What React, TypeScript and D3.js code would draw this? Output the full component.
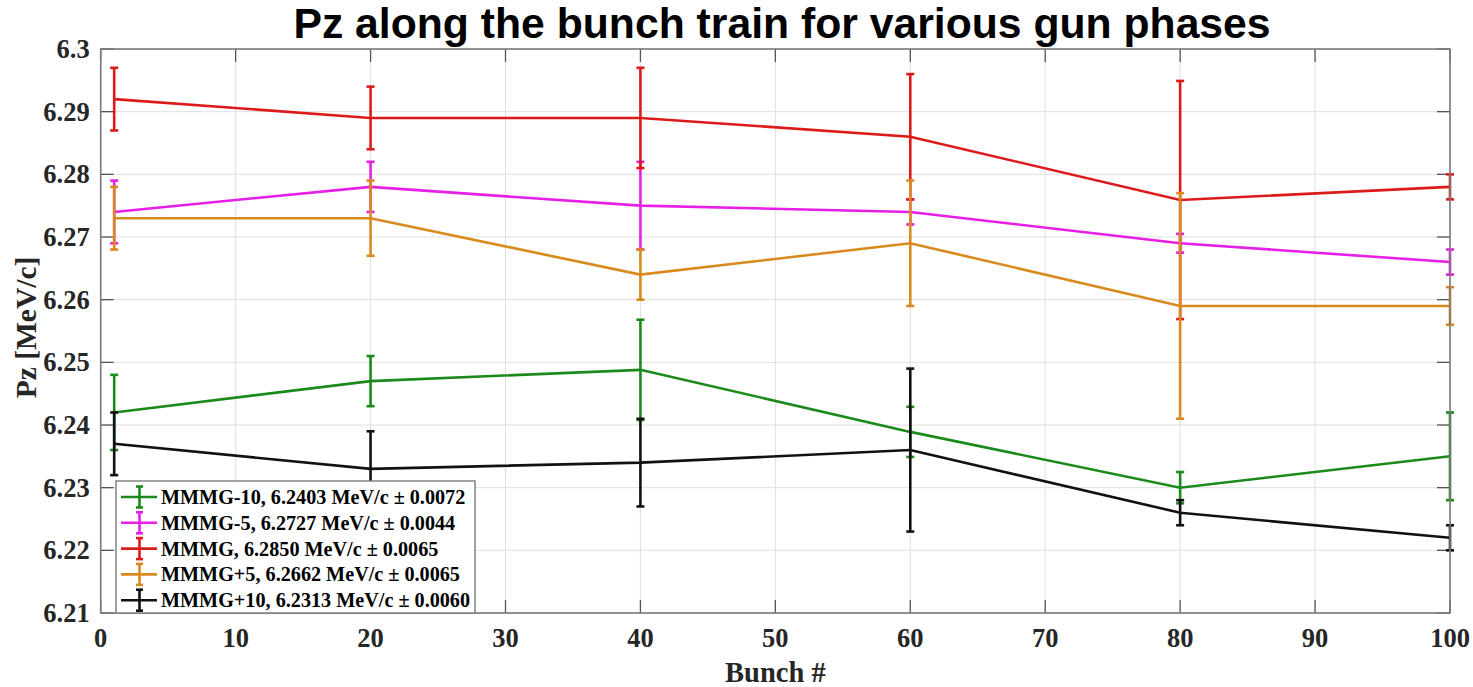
import React from "react";
import * as d3 from "d3";

const bunches = [1, 20, 40, 60, 80, 100];

const seriesNames = ["MMMG-10", "MMMG-5", "MMMG", "MMMG+5", "MMMG+10"];
const seriesMeans = ["6.2403", "6.2727", "6.2850", "6.2662", "6.2313"];
const seriesStd = ["0.0072", "0.0044", "0.0065", "0.0065", "0.0060"];
const seriesColors = ["#1b8a1b", "#e61ee6", "#dd1a1a", "#d98a1e", "#111111"];

const green = [6.242, 6.247, 6.2488, 6.2389, 6.230, 6.235];
const greenErr = [0.006, 0.004, 0.008, 0.004, 0.0025, 0.007];
const magenta = [6.274, 6.278, 6.275, 6.274, 6.269, 6.266];
const magentaErr = [0.005, 0.004, 0.007, 0.002, 0.0015, 0.002];
const red = [6.292, 6.289, 6.289, 6.286, 6.2759, 6.278];
const redErr = [0.005, 0.005, 0.008, 0.010, 0.019, 0.002];
const orange = [6.273, 6.273, 6.264, 6.269, 6.259, 6.259];
const orangeErr = [0.005, 0.006, 0.004, 0.010, 0.018, 0.003];
const black = [6.237, 6.233, 6.234, 6.236, 6.226, 6.222];
const blackErr = [0.005, 0.006, 0.007, 0.013, 0.002, 0.002];

const seriesValues = [green, magenta, red, orange, black];
const seriesErrors = [greenErr, magentaErr, redErr, orangeErr, blackErr];

const xTicks = [0, 10, 20, 30, 40, 50, 60, 70, 80, 90, 100];
const yTicks = [6.21, 6.22, 6.23, 6.24, 6.25, 6.26, 6.27, 6.28, 6.29, 6.3];

const title = "Pz along the bunch train for various gun phases";
const xLabel = "Bunch #";
const yLabel = "Pz [MeV/c]";

export default function App() {
  const W = 1473, H = 687;
  const left = 100.7, right = 1450, top = 49, bottom = 613;
  const x = d3.scaleLinear().domain([0, 100]).range([left, right]);
  const y = d3.scaleLinear().domain([6.21, 6.3]).range([bottom, top]);
  const line = d3.line<number>().x((_, i) => x(bunches[i])).y((v) => y(v));
  const capW = 4;
  const tickLen = 13;
  const serif = "'Liberation Serif', 'Times New Roman', serif";
  const axisColor = "#7a7a7a";

  const legX = 116, legY = 481, legW = 359, legH = bottom - legY;
  const legRow = 25.8;

  return (
    <svg width={W} height={H} style={{ position: "absolute", left: 0, top: 0, background: "#fff" }}>
      <rect x={0} y={0} width={W} height={H} fill="#fff" />
      {/* grid */}
      {xTicks.map((t) => (
        <line key={"gx" + t} x1={x(t)} x2={x(t)} y1={top} y2={bottom} stroke="#e0e0e0" strokeWidth={1} />
      ))}
      {yTicks.map((t) => (
        <line key={"gy" + t} x1={left} x2={right} y1={y(t)} y2={y(t)} stroke="#e0e0e0" strokeWidth={1} />
      ))}
      {/* ticks */}
      {xTicks.map((t) => (
        <g key={"tx" + t}>
          <line x1={x(t)} x2={x(t)} y1={bottom} y2={bottom - tickLen} stroke="#555" strokeWidth={1.3} />
          <line x1={x(t)} x2={x(t)} y1={top} y2={top + tickLen} stroke="#555" strokeWidth={1.3} />
        </g>
      ))}
      {yTicks.map((t) => (
        <g key={"ty" + t}>
          <line x1={left} x2={left + tickLen} y1={y(t)} y2={y(t)} stroke="#555" strokeWidth={1.3} />
          <line x1={right} x2={right - tickLen} y1={y(t)} y2={y(t)} stroke="#555" strokeWidth={1.3} />
        </g>
      ))}
      {/* series */}
      {seriesValues.map((vals, si) => (
        <g key={"s" + si} stroke={seriesColors[si]} strokeWidth={2.6} fill="none">
          <path d={line(vals) || ""} />
          {vals.map((v, i) => {
            const e = seriesErrors[si][i];
            const cx = x(bunches[i]);
            return (
              <g key={i}>
                <line x1={cx} x2={cx} y1={y(v - e)} y2={y(v + e)} />
                <line x1={cx - capW} x2={cx + capW} y1={y(v - e)} y2={y(v - e)} />
                <line x1={cx - capW} x2={cx + capW} y1={y(v + e)} y2={y(v + e)} />
              </g>
            );
          })}
        </g>
      ))}
      {/* axes box */}
      <rect x={left} y={top} width={right - left} height={bottom - top} fill="none" stroke={axisColor} strokeWidth={1.6} />
      {/* tick labels */}
      {yTicks.map((t) => (
        <text key={"yl" + t} x={left - 11} y={y(t) + 9} textAnchor="end" fontFamily={serif} fontWeight="bold" fontSize={26.5} fill="#262626">
          {d3.format("")(+t.toFixed(2))}
        </text>
      ))}
      {xTicks.map((t) => (
        <text key={"xl" + t} x={x(t)} y={bottom + 34} textAnchor="middle" fontFamily={serif} fontWeight="bold" fontSize={26.5} fill="#262626">
          {t}
        </text>
      ))}
      <text x={(left + right) / 2} y={682} textAnchor="middle" fontFamily={serif} fontWeight="bold" fontSize={28.5} fill="#262626">
        {xLabel}
      </text>
      <text transform={`translate(36, ${(253 + 402) / 2}) rotate(-90)`} textAnchor="middle" fontFamily={serif} fontWeight="bold" fontSize={29.5} fill="#262626">
        {yLabel}
      </text>
      <text x={782} y={38} textAnchor="middle" fontFamily="'Liberation Sans', Arial, sans-serif" fontWeight="bold" fontSize={42.7} fill="#000">
        {title}
      </text>
      {/* legend */}
      <rect x={legX} y={legY} width={legW} height={legH} fill="#fff" stroke={axisColor} strokeWidth={1.4} />
      {seriesNames.map((n, i) => {
        const cy = legY + 16 + i * legRow;
        const c = seriesColors[i];
        return (
          <g key={"lg" + i}>
            <g stroke={c} strokeWidth={2.6}>
              <line x1={121} x2={157} y1={cy} y2={cy} />
              <line x1={139.5} x2={139.5} y1={cy - 10.5} y2={cy + 10.5} />
              <line x1={136} x2={143} y1={cy - 10.5} y2={cy - 10.5} />
              <line x1={136} x2={143} y1={cy + 10.5} y2={cy + 10.5} />
            </g>
            <text x={161} y={cy + 7} fontFamily={serif} fontWeight="bold" fontSize={20.2} fill="#000">
              {`${n}, ${seriesMeans[i]} MeV/c \u00b1 ${seriesStd[i]}`}
            </text>
          </g>
        );
      })}
    </svg>
  );
}
